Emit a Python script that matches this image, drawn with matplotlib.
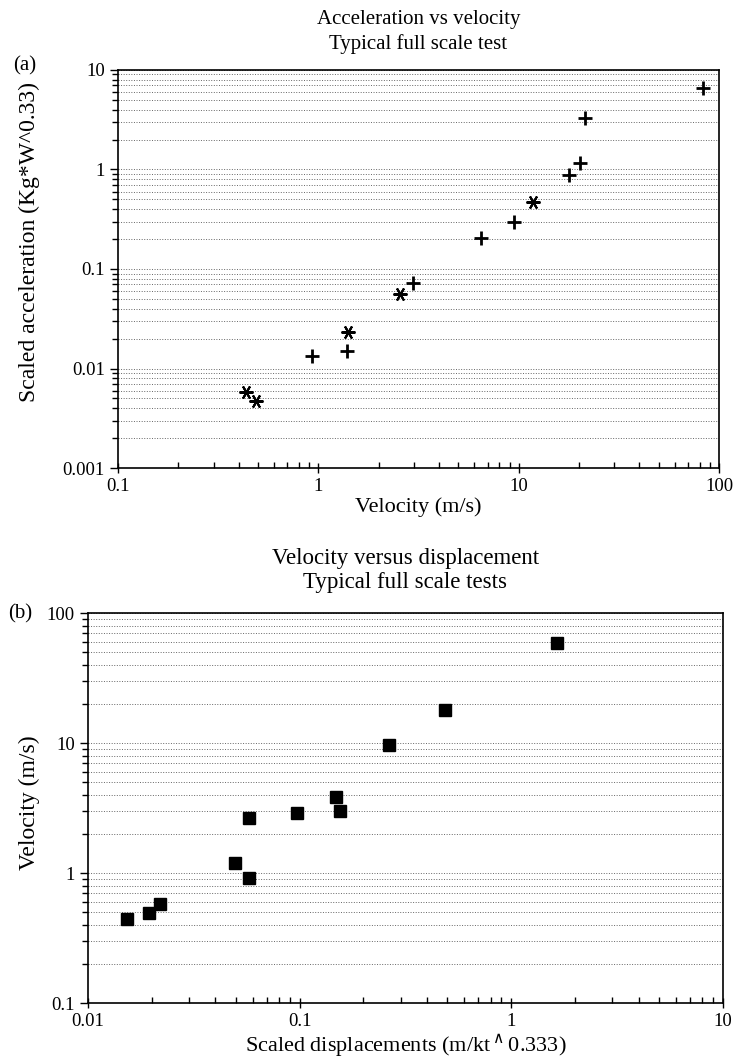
import matplotlib.pyplot as plt
from matplotlib.ticker import LogLocator, FixedLocator, NullFormatter

plt.rcParams['font.family'] = ['Liberation Serif', 'DejaVu Serif']

# panel (a): acceleration vs velocity
PLUS_VEL = [83.6, 21.4, 20.3, 17.9, 9.5, 6.5, 2.96, 1.39, 0.93]
PLUS_ACC = [6.6, 3.27, 1.15, 0.88, 0.30, 0.207, 0.0728, 0.0151, 0.01345]
STAR_VEL = [11.8, 2.56, 1.41, 0.435, 0.489]
STAR_ACC = [0.474, 0.0557, 0.0231, 0.00585, 0.00471]
A_XTICKS = [0.1, 1, 10, 100]
A_XLABELS = ['0.1', '1', '10', '100']
A_YTICKS = [0.001, 0.01, 0.1, 1, 10]
A_YLABELS = ['0.001', '0.01', '0.1', '1', '10']

# panel (b): velocity vs displacement
DISP = [1.65, 0.485, 0.264, 0.148, 0.155, 0.0977, 0.0574, 0.0494, 0.0574,
        0.0219, 0.0195, 0.0153]
VEL = [59, 17.9, 9.7, 3.86, 3.0, 2.91, 2.64, 1.19, 0.92, 0.578, 0.49, 0.443]
B_XTICKS = [0.01, 0.1, 1, 10]
B_XLABELS = ['0.01', '0.1', '1', '10']
B_YTICKS = [0.1, 1, 10, 100]
B_YLABELS = ['0.1', '1', '10', '100']


def style_axes(ax, xticks, xlabels, yticks, ylabels):
    ax.set_xscale('log')
    ax.set_yscale('log')
    ax.set_xlim(xticks[0], xticks[-1])
    ax.set_ylim(yticks[0], yticks[-1])
    ax.xaxis.set_major_locator(FixedLocator(xticks))
    ax.set_xticklabels(xlabels)
    ax.yaxis.set_major_locator(FixedLocator(yticks))
    ax.set_yticklabels(ylabels)
    ax.xaxis.set_minor_locator(LogLocator(base=10, subs=range(2, 10)))
    ax.yaxis.set_minor_locator(LogLocator(base=10, subs=range(2, 10)))
    ax.xaxis.set_minor_formatter(NullFormatter())
    ax.yaxis.set_minor_formatter(NullFormatter())
    ax.grid(True, which='both', axis='y', linestyle=':', color='0.4', linewidth=0.7)
    ax.tick_params(axis='x', which='major', direction='inout', length=7, labelsize=13.5, width=1)
    ax.tick_params(axis='x', which='minor', direction='in', length=4, width=1)
    ax.tick_params(axis='y', which='major', direction='out', length=6, labelsize=13.5, width=1)
    ax.tick_params(axis='y', which='minor', direction='out', length=4, width=1)
    for s in ax.spines.values():
        s.set_linewidth(1.2)


fig = plt.figure(figsize=(7.33, 10.63), dpi=100)

ax1 = fig.add_axes([0.161, 0.5597, 0.820, 0.3745])
ax1.plot(PLUS_VEL, PLUS_ACC, linestyle='none', marker='+', color='black',
         markersize=10, markeredgewidth=2)
ax1.plot(STAR_VEL, STAR_ACC, linestyle='none', marker=(6, 2, 90), color='black',
         markersize=10, markeredgewidth=1.5)
style_axes(ax1, A_XTICKS, A_XLABELS, A_YTICKS, A_YLABELS)
ax1.set_xlabel('Velocity (m/s)', fontsize=16)
ax1.xaxis.set_label_coords(0.5, -0.073)
ax1.set_ylabel('Scaled acceleration (Kg*W^0.33)', fontsize=17)
ax1.yaxis.set_label_coords(-0.13, 0.568)
ax1.set_title('Acceleration vs velocity\nTypical full scale test', fontsize=15,
              pad=15, linespacing=1.35)
ax1.text(13 / 733, 1 - 66 / 1063, '(a)', transform=fig.transFigure,
         fontsize=15, va='center', ha='left')

ax2 = fig.add_axes([0.120, 0.0564, 0.866, 0.3669])
ax2.plot(DISP, VEL, linestyle='none', marker='s', color='black', markersize=8)
style_axes(ax2, B_XTICKS, B_XLABELS, B_YTICKS, B_YLABELS)
ax2.set_xlabel('Scaled displacements (m/kt$^\\wedge$0.333)', fontsize=16)
ax2.xaxis.set_label_coords(0.5, -0.075)
ax2.set_ylabel('Velocity (m/s)', fontsize=17)
ax2.yaxis.set_label_coords(-0.076, 0.515)
ax2.set_title('Velocity versus displacement\nTypical full scale tests', fontsize=16.5,
              pad=18, linespacing=1.18)
ax2.text(8 / 733, 1 - 614 / 1063, '(b)', transform=fig.transFigure,
         fontsize=15, va='center', ha='left')

fig.savefig('out.png', dpi=100)
